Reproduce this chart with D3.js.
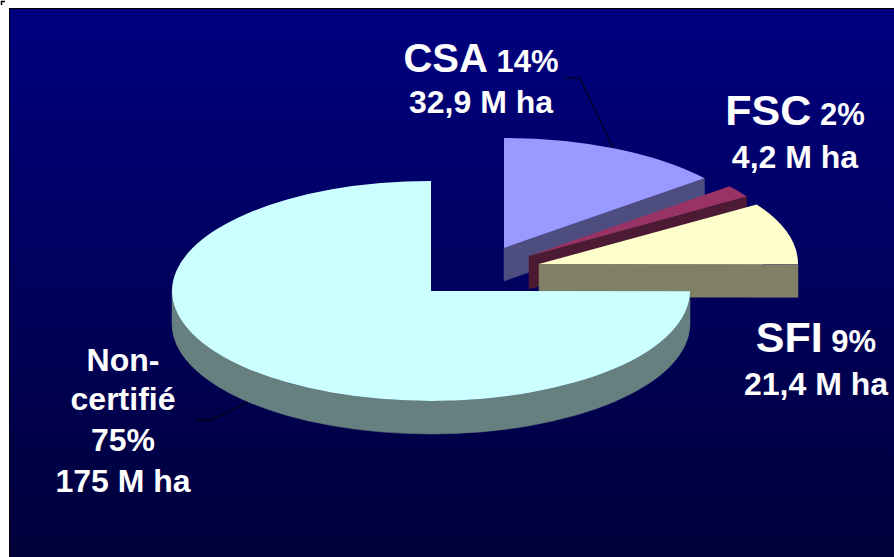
<!DOCTYPE html>
<html><head><meta charset="utf-8">
<script src="https://cdn.jsdelivr.net/npm/d3@7/dist/d3.min.js"></script>
<style>html,body{margin:0;padding:0;background:#fff;overflow:hidden}svg{display:block}text{font-family:"Liberation Sans",Arial,sans-serif;font-weight:bold;fill:#fff}</style>
</head><body>
<script>
const categories = ["CSA", "FSC", "SFI", "Non-certifié"];
const hectares = [32.9, 4.2, 21.4, 175];
const percents = ["14%", "2%", "9%", "75%"];
const hectareLabels = ["32,9 M ha", "4,2 M ha", "21,4 M ha", "175 M ha"];
const topColors = ["#9999ff", "#993366", "#ffffcc", "#ccffff"];
const wallColors = ["#4d4d80", "#4d1a33", "#808066", "#668080"];

const W = 894, H = 557, rx = 259, ry = 110, depth = 33;
const apex = [[504, 248], [529, 256], [539, 264], [431, 291]];

const svg = d3.select("body").append("svg").attr("width", W).attr("height", H);
const defs = svg.append("defs");
const grad = defs.append("linearGradient").attr("id", "bg").attr("x1", 0).attr("x2", 0).attr("y1", 0).attr("y2", 1);
grad.append("stop").attr("offset", 0).attr("stop-color", "#000080");
grad.append("stop").attr("offset", 1).attr("stop-color", "#00003a");

svg.append("path").attr("d", "M1.5 5V1.5H5").attr("fill", "none").attr("stroke", "#000").attr("stroke-width", 1.5);
svg.append("rect").attr("x", 9).attr("y", 8).attr("width", W - 9).attr("height", H - 8).attr("fill", "#000");
svg.append("rect").attr("x", 10).attr("y", 9).attr("width", W - 10).attr("height", H - 9).attr("fill", "url(#bg)");

const pie = d3.pie().sort(null).value(d => d);
const arcs = pie(hectares);
const arc = d3.arc().innerRadius(0).outerRadius(rx);
const px = a => rx * Math.sin(a), py = a => -ry * Math.cos(a);

// side walls: cut face on the trailing edge of the three small slices, rim for the large one
function wallPath(d, i) {
  const [cx, cy] = apex[i];
  if (i < 3) {
    const x = cx + px(d.endAngle), y = cy + py(d.endAngle);
    return `M${cx},${cy}L${x},${y}V${y + depth}L${cx},${cy + depth}Z`;
  }
  const a0 = Math.max(d.startAngle, Math.PI / 2), a1 = Math.min(d.endAngle, 3 * Math.PI / 2);
  const x0 = cx + px(a0), y0 = cy + py(a0), x1 = cx + px(a1), y1 = cy + py(a1);
  return `M${x0},${y0}A${rx},${ry} 0 0 1 ${x1},${y1}V${y1 + depth}A${rx},${ry} 0 0 0 ${x0},${y0 + depth}Z`;
}

const slices = svg.append("g").selectAll("g").data(arcs).join("g");
slices.append("path").attr("d", wallPath).attr("fill", (d, i) => wallColors[i])
  .attr("stroke", (d, i) => wallColors[i]).attr("stroke-width", 0.5);
slices.append("path")
  .attr("transform", (d, i) => `translate(${apex[i][0]},${apex[i][1]}) scale(1,${ry / rx})`)
  .attr("d", arc).attr("fill", (d, i) => topColors[i]);

// leader lines
const leaders = [[[564, 78], [580, 78], [613, 148]], [[195, 420], [211, 420], [248, 402]]];
svg.append("g").selectAll("path").data(leaders).join("path")
  .attr("d", d3.line()).attr("fill", "none").attr("stroke", "#000").attr("stroke-width", 1);

// labels
const small = 31, line2 = 32;
function label(i, cx, y1, y2, big) {
  const t = svg.append("text").attr("x", cx).attr("y", y1).attr("text-anchor", "middle");
  t.append("tspan").attr("font-size", big).text(categories[i]);
  t.append("tspan").attr("font-size", small).text(" " + percents[i]);
  svg.append("text").attr("x", cx).attr("y", y2).attr("text-anchor", "middle").attr("font-size", line2).text(hectareLabels[i]);
}
label(0, 481, 72, 113, 40);
label(1, 795, 125, 168, 43);
label(2, 816, 352, 395, 43);
const nonLines = ["Non-", "certifié", percents[3], hectareLabels[3]];
svg.append("g").selectAll("text").data(nonLines).join("text")
  .attr("x", 123).attr("y", (d, i) => [371, 410, 451, 492][i])
  .attr("text-anchor", "middle").attr("font-size", 32).text(d => d);
</script>
</body></html>
